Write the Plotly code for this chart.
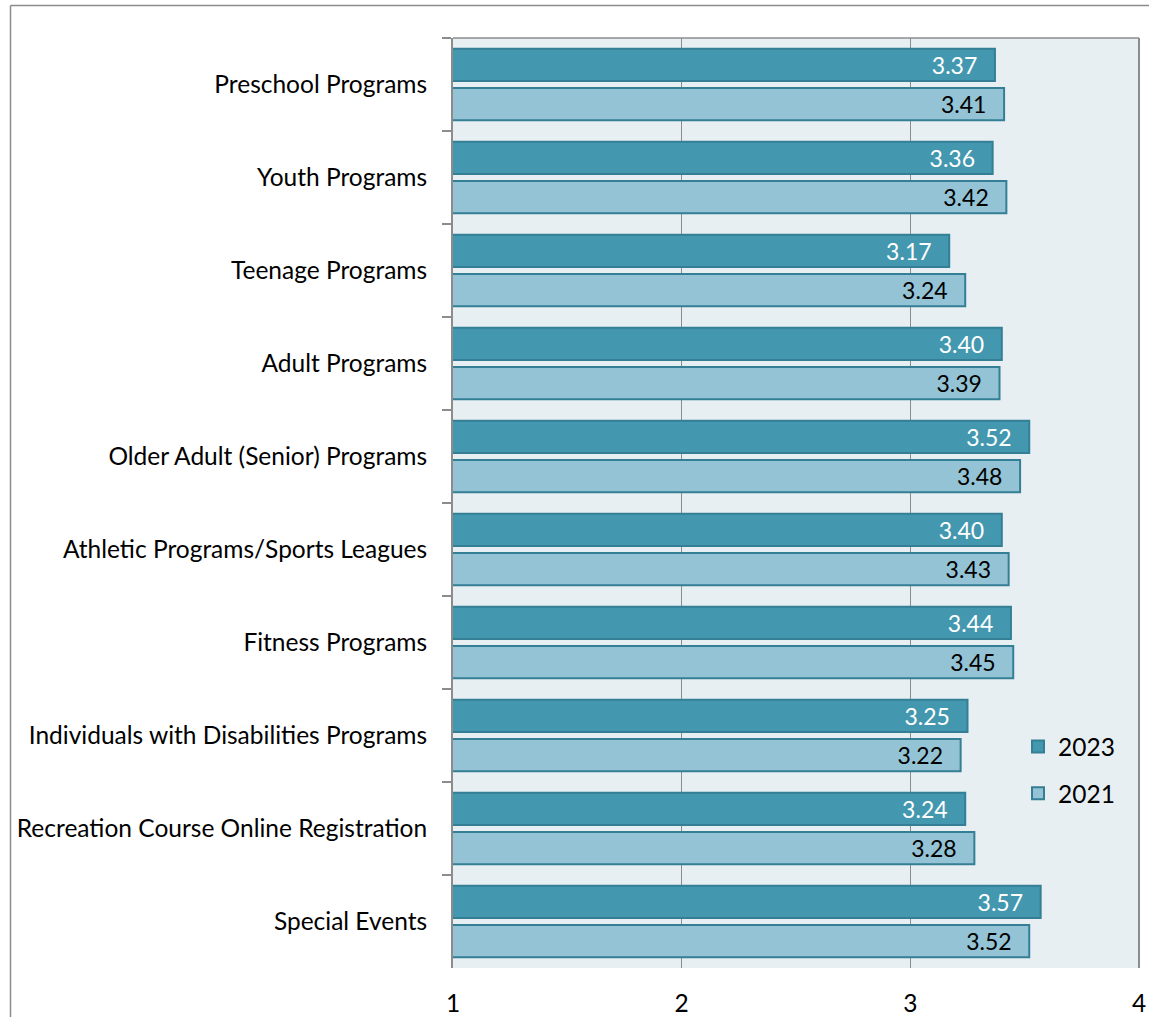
import plotly.graph_objects as go

categories = [
    "Preschool Programs",
    "Youth Programs",
    "Teenage Programs",
    "Adult Programs",
    "Older Adult (Senior) Programs",
    "Athletic Programs/Sports Leagues",
    "Fitness Programs",
    "Individuals with Disabilities Programs",
    "Recreation Course Online Registration",
    "Special Events",
]
values_2023 = [3.37, 3.36, 3.17, 3.40, 3.52, 3.40, 3.44, 3.25, 3.24, 3.57]
values_2021 = [3.41, 3.42, 3.24, 3.39, 3.48, 3.43, 3.45, 3.22, 3.28, 3.52]
x_ticks = [1, 2, 3, 4]

FONT = "Lato"
LBL = 24.5
W, H = 1149, 1017
L, R, T, B = 453, 10, 38, 49
pw, ph = W - L - R, H - T - B
PAD = "\u00a0\u00a0\u2009"

fig = go.Figure()
fig.add_trace(go.Bar(
    y=categories, x=values_2023, orientation="h", name="2023",
    legendgroup="a",
    marker=dict(color="#4398B0", line=dict(color="#347F95", width=2)),
    text=[f"{v:.2f}{PAD}" for v in values_2023], textposition="inside",
    insidetextanchor="end", textangle=0, constraintext="none",
    textfont=dict(color="white", size=23, family=FONT),
))
fig.add_trace(go.Bar(
    y=categories, x=values_2021, orientation="h", name="2021",
    legendgroup="b",
    marker=dict(color="#93C3D5", line=dict(color="#347F95", width=2)),
    text=[f"{v:.2f}{PAD}" for v in values_2021], textposition="inside",
    insidetextanchor="end", textangle=0, constraintext="none",
    textfont=dict(color="black", size=23, family=FONT),
))

def px(xp):
    return (xp - L) / pw

def py(yp):
    return (H - B - yp) / ph

shapes = [
    # plot top & right border
    dict(type="line", xref="x domain", yref="y domain", x0=0, x1=1, y0=1, y1=1,
         line=dict(color="#8C8C8C", width=1.5)),
    dict(type="line", xref="x domain", yref="y domain", x0=1, x1=1, y0=0, y1=1,
         line=dict(color="#8C8C8C", width=2)),
    # outer chart border (left & top)
    dict(type="line", xref="paper", yref="paper", x0=px(10.5), x1=px(10.5), y0=py(5.5), y1=py(H + 5),
         line=dict(color="#8C8C8C", width=1.5)),
    dict(type="line", xref="paper", yref="paper", x0=px(10.5), x1=px(W + 5), y0=py(5.5), y1=py(5.5),
         line=dict(color="#8C8C8C", width=1.5)),
]

fig.update_layout(
    width=W, height=H,
    margin=dict(l=L, r=R, t=T, b=B, autoexpand=False),
    paper_bgcolor="white",
    plot_bgcolor="#E8EFF3",
    barmode="group", bargap=0.16, bargroupgap=0.175,
    font=dict(family=FONT, size=LBL, color="black"),
    showlegend=True,
    legend=dict(x=px(1018), y=py(724), xanchor="left", yanchor="top",
                traceorder="grouped", tracegroupgap=12,
                bgcolor="rgba(0,0,0,0)", font=dict(size=LBL, family=FONT)),
    shapes=shapes,
)
fig.update_xaxes(
    range=[1, 4], tickvals=x_ticks, ticktext=[str(t) for t in x_ticks],
    showgrid=True, gridcolor="#8C8C8C", gridwidth=1,
    zeroline=False, showline=False, ticks="", ticklabelstandoff=18,
    tickfont=dict(size=LBL, family=FONT), automargin=False,
)
fig.update_yaxes(
    autorange="reversed", showgrid=False,
    showline=True, linecolor="#8C8C8C", linewidth=2,
    ticks="outside", tickson="boundaries", ticklen=9, tickcolor="#8C8C8C", tickwidth=1.5,
    ticklabelstandoff=19, tickfont=dict(size=LBL, family=FONT), automargin=False,
)

fig.write_html("out.html")
